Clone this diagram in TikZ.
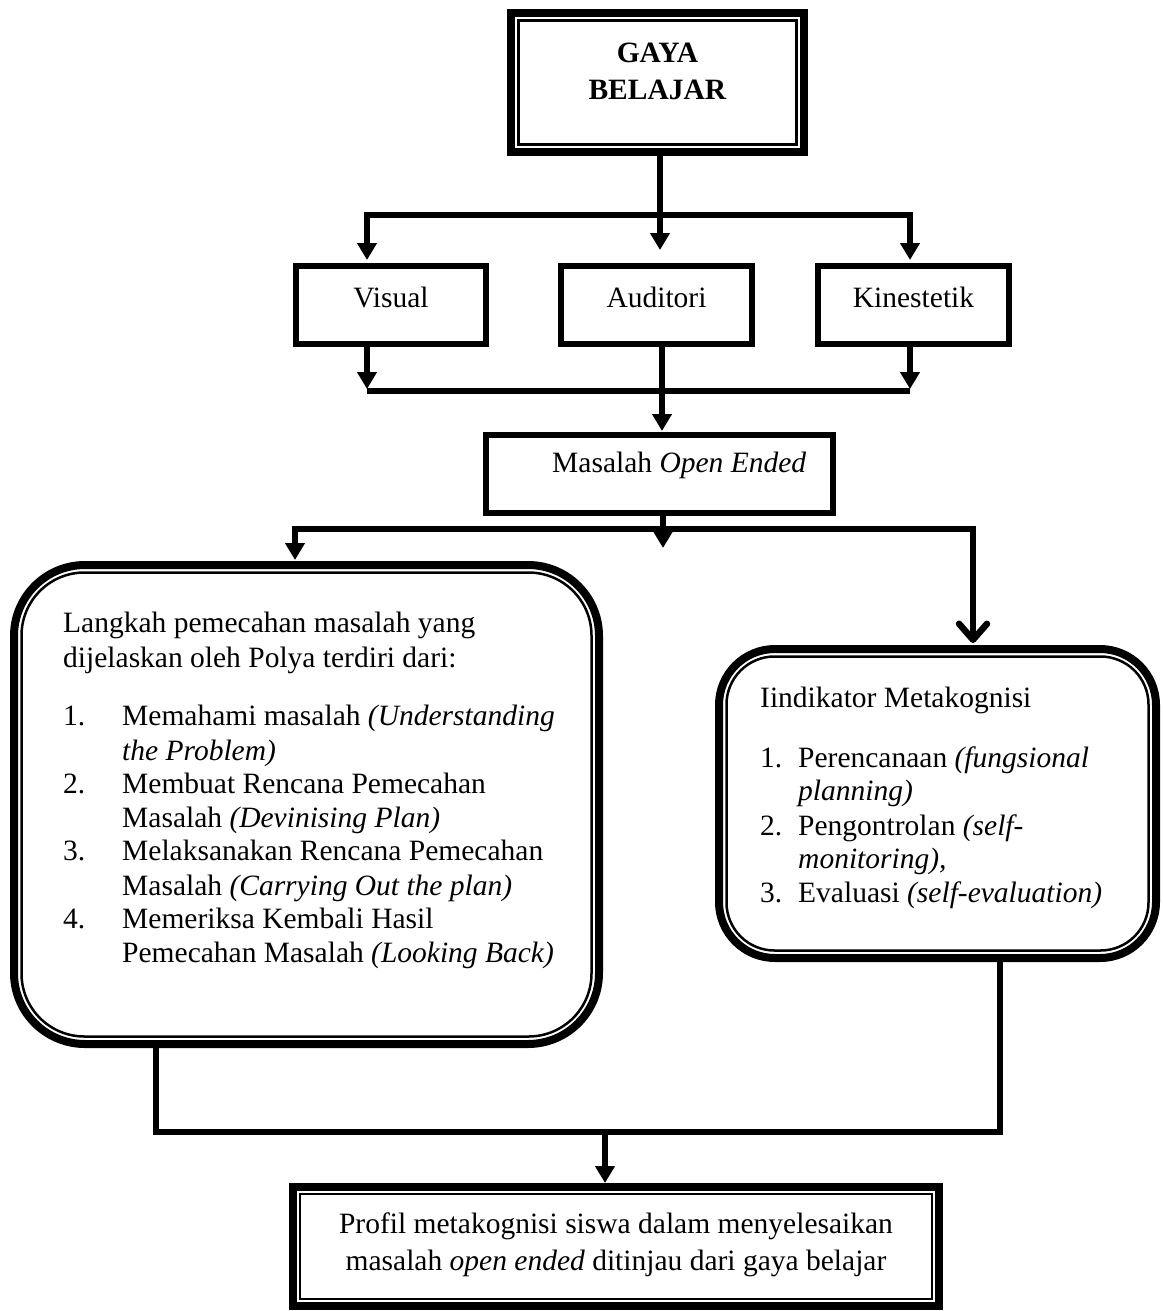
\documentclass[tikz,border=0pt]{standalone}
\usepackage{fontspec}
\setmainfont{Liberation Serif}
\usetikzlibrary{arrows.meta}
\begin{document}
\begin{tikzpicture}[x=1pt,y=-1pt,
  txt/.style={inner sep=0pt, font=\fontsize{29.5}{34}\selectfont},
  sbox/.style={draw, line width=6pt, inner sep=0pt},
  dbox/.style={draw, line width=8pt, inner sep=0pt},
  thinline/.style={line width=2.5pt},
  conn/.style={line width=6.5pt, line join=miter},
  tri/.style={-{Triangle[width=19pt,length=17pt]}},
  tritri/.style={{Triangle[width=19pt,length=17pt]}-{Triangle[width=19pt,length=17pt]}},
  tribarb/.style={{Triangle[width=19pt,length=17pt]}-{Straight Barb[width=28pt,length=16pt,round]}}
]
\useasboundingbox (0,0) rectangle (1162,1311);

% ---- boxes ----
\node[dbox, minimum width=293pt, minimum height=139pt] (gaya) at (657.5,82.5) {};
\draw[thinline] ([shift={(11.5,11.5)}]gaya.north west) rectangle ([shift={(-11.5,-11.5)}]gaya.south east);
\node[txt, anchor=base] (g1) at (657.5,63) {\textbf{GAYA}};
\node[txt, anchor=base] (g2) at (657.5,100) {\textbf{BELAJAR}};

\node[sbox, minimum width=190pt, minimum height=78pt] (vis) at (391,305) {};
\node[sbox, minimum width=191pt, minimum height=78pt] (aud) at (656.5,305) {};
\node[sbox, minimum width=191pt, minimum height=78pt] (kin) at (913.5,305) {};
\node[txt, anchor=base] (tvis) at (391,307) {Visual};
\node[txt, anchor=base] (taud) at (656.5,307) {Auditori};
\node[txt, anchor=base] (tkin) at (913.5,307) {Kinestetik};

\node[sbox, minimum width=347pt, minimum height=78pt] (mas) at (659.5,474) {};
\node[txt, anchor=base west] (tmas) at (552,472) {Masalah \textit{Open Ended}};

\node[dbox, rounded corners=71pt, minimum width=585pt, minimum height=479pt] (lbox) at (306.5,804.5) {};
\draw[thinline, rounded corners=63pt] ([shift={(11.5,11.5)}]lbox.north west) rectangle ([shift={(-11.5,-11.5)}]lbox.south east);

\node[dbox, rounded corners=56pt, minimum width=437pt, minimum height=309pt] (rbox) at (937.5,803.5) {};
\draw[thinline, rounded corners=48pt] ([shift={(11.5,11.5)}]rbox.north west) rectangle ([shift={(-11.5,-11.5)}]rbox.south east);

\node[dbox, minimum width=646pt, minimum height=119pt] (fin) at (616,1246.5) {};
\draw[thinline] ([shift={(11,11)}]fin.north west) rectangle ([shift={(-11,-11)}]fin.south east);
\node[txt, anchor=base] (f1) at (616,1233) {Profil metakognisi siswa dalam menyelesaikan};
\node[txt, anchor=base] (f2) at (616,1270) {masalah \textit{open ended} ditinjau dari gaya belajar};

% ---- left box text ----
\node[txt, anchor=base west] (l0) at (63,632) {Langkah pemecahan masalah yang};
\node[txt, anchor=base west] (l00) at (63,667) {dijelaskan oleh Polya terdiri dari:};
\node[txt, anchor=base west] (n1) at (63,725) {1.};
\node[txt, anchor=base west] (l1) at (122,725) {Memahami masalah \textit{(Understanding}};
\node[txt, anchor=base west] (l1b) at (122,760) {\textit{the Problem)}};
\node[txt, anchor=base west] (n2) at (63,793) {2.};
\node[txt, anchor=base west] (l2) at (122,793) {Membuat Rencana Pemecahan};
\node[txt, anchor=base west] (l2b) at (122,827) {Masalah \textit{(Devinising Plan)}};
\node[txt, anchor=base west] (n3) at (63,860) {3.};
\node[txt, anchor=base west] (l3) at (122,860) {Melaksanakan Rencana Pemecahan};
\node[txt, anchor=base west] (l3b) at (122,895) {Masalah \textit{(Carrying Out the plan)}};
\node[txt, anchor=base west] (n4) at (63,928) {4.};
\node[txt, anchor=base west] (l4) at (122,928) {Memeriksa Kembali Hasil};
\node[txt, anchor=base west] (l4b) at (122,962) {Pemecahan Masalah \textit{(Looking Back)}};

% ---- right box text ----
\node[txt, anchor=base west] (r0) at (760,707) {Iindikator Metakognisi};
\node[txt, anchor=base west] (m1) at (760,767) {1.};
\node[txt, anchor=base west] (r1) at (798,767) {Perencanaan \textit{(fungsional}};
\node[txt, anchor=base west] (r1b) at (798,800) {\textit{planning)}};
\node[txt, anchor=base west] (m2) at (760,835) {2.};
\node[txt, anchor=base west] (r2) at (798,835) {Pengontrolan \textit{(self-}};
\node[txt, anchor=base west] (r2b) at (798,868) {\textit{monitoring),}};
\node[txt, anchor=base west] (m3) at (760,902) {3.};
\node[txt, anchor=base west] (r3) at (798,902) {Evaluasi \textit{(self-evaluation)}};

% ---- coordinates ----
\coordinate (gx) at (660,0);
\coordinate (tL) at (367,215);
\coordinate (tR) at (910,215);
\coordinate (bL) at (367,391);
\coordinate (bR) at (910,391);
\coordinate (ax) at (662,0);
\coordinate (mD) at (663,548);
\coordinate (mL) at (295,529);
\coordinate (mR) at (973,529);
\coordinate (fL) at (156,1132);
\coordinate (fR) at (1000,1132);
\coordinate (fM) at (605,1132);

% ---- connectors ----
\draw[conn,tri,shorten >=13pt] (gaya.south -| gx) -- (aud.north -| gx);
\draw[conn,tritri,shorten <=3pt,shorten >=3pt] (tL |- vis.north) -- (tL) -- (tR) -- (tR |- kin.north);
\draw[conn] (bL) -- (bR);
\draw[conn,tri,shorten >=2pt] (vis.south -| bL) -- (bL);
\draw[conn,tri,shorten >=2pt] (kin.south -| bR) -- (bR);
\draw[conn,tri,shorten >=1pt] (aud.south -| ax) -- (mas.north -| ax);
\draw[conn,tri] (mas.south -| mD) -- (mD);
\draw[conn,tribarb,shorten <=1pt,shorten >=2pt] (mL |- lbox.north) -- (mL) -- (mR) -- (mR |- rbox.north);
\draw[line width=6pt, line join=miter] (lbox.south -| fL) -- (fL) -- (fR) -- (rbox.south -| fR);
\draw[conn,tri] (fM) -- (fin.north -| fM);
\end{tikzpicture}
\end{document}
